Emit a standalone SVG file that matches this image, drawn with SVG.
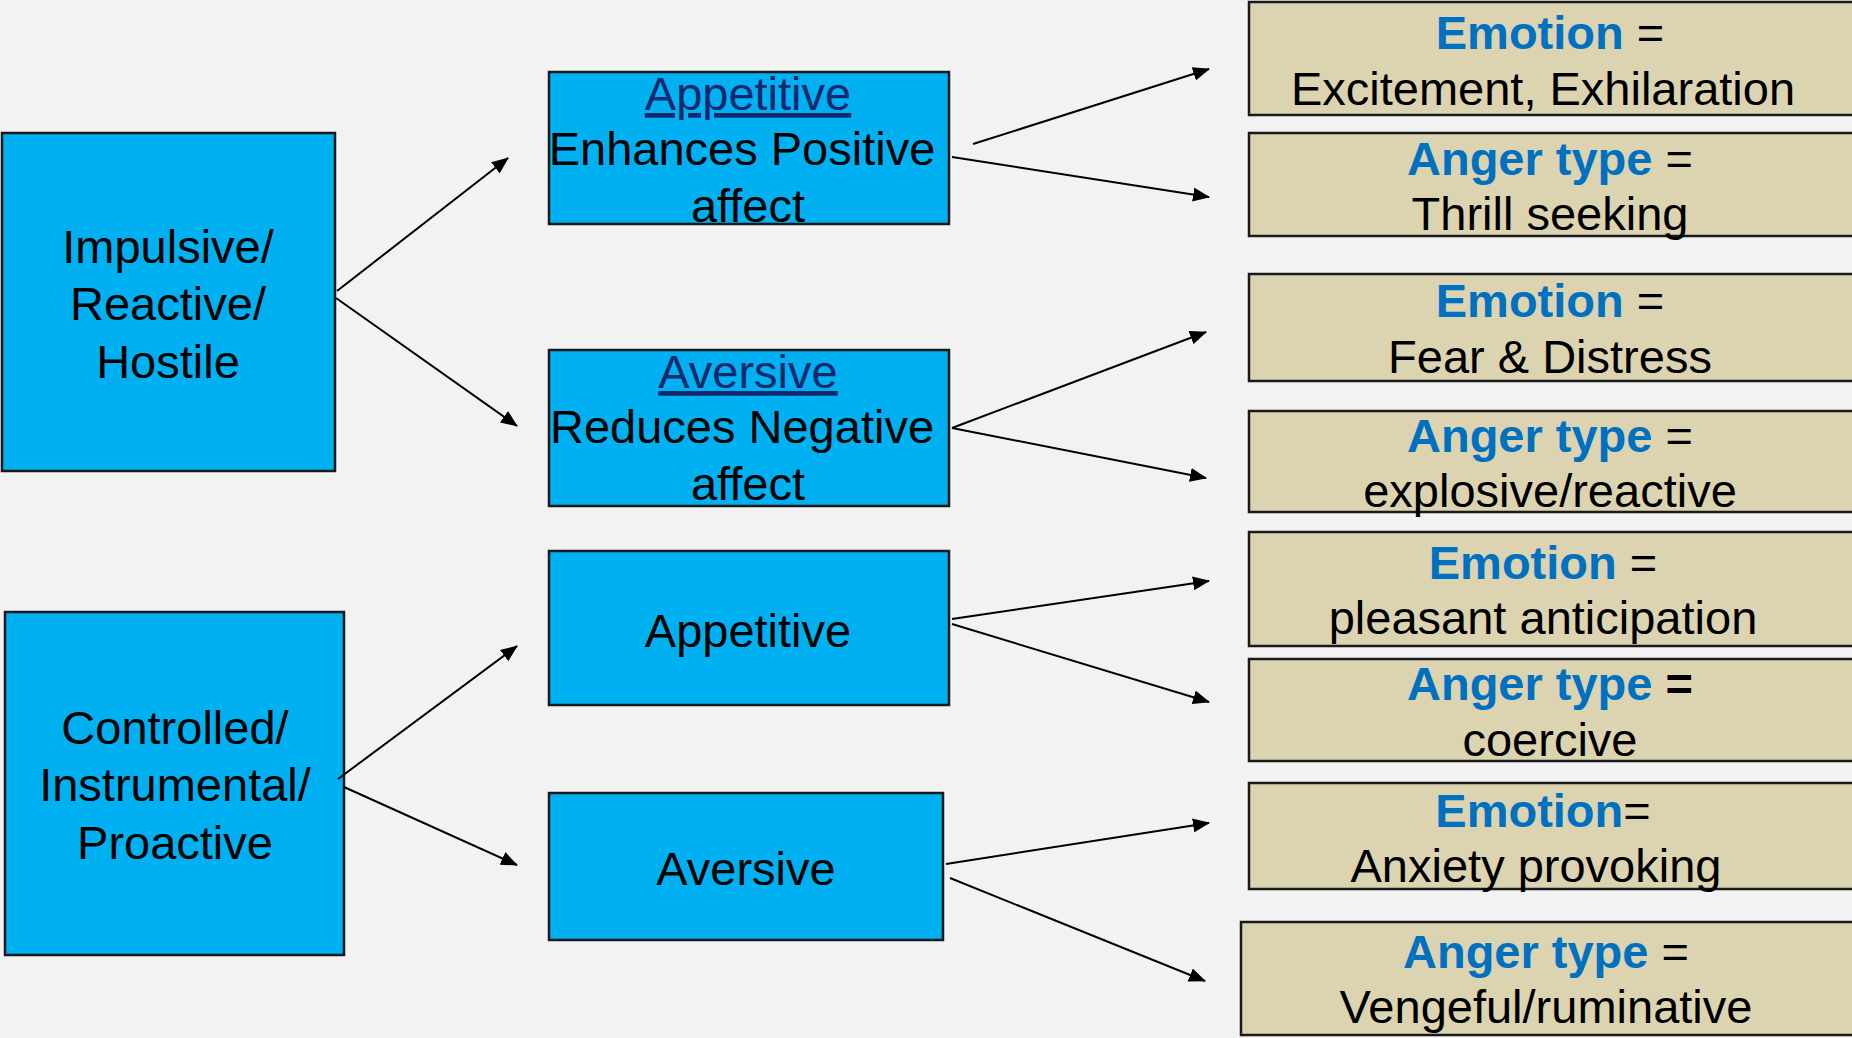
<svg xmlns="http://www.w3.org/2000/svg" width="1852" height="1038" viewBox="0 0 1852 1038">
<style>
text{font-family:"Liberation Sans",Arial,sans-serif;font-size:47px;text-anchor:middle;fill:#000}
.blue{fill:#00B0F0;stroke:#1a1a1a;stroke-width:2.5}
.tan{fill:#DCD3B1;stroke:#1a1a1a;stroke-width:2.5}
.hd{fill:#0070C0;font-weight:bold}
.lnk{fill:#14286E;text-decoration:underline}
.b{font-weight:bold}
.con line{stroke:#000;stroke-width:2;marker-end:url(#ah)}
</style>
<defs>
<marker id="ah" markerUnits="userSpaceOnUse" markerWidth="18" markerHeight="14" refX="16" refY="7" orient="auto">
<path d="M0,0 L17,7 L0,14 z" fill="#000"/>
</marker>
</defs>
<rect width="1852" height="1038" fill="#F2F2F2"/>

<g id="impulsive">
<rect class="blue" x="2" y="133" width="333" height="338"/>
<text x="168" y="263">Impulsive/</text>
<text x="168" y="320">Reactive/</text>
<text x="168" y="378">Hostile</text>
</g>

<g id="controlled">
<rect class="blue" x="5" y="612" width="339" height="343"/>
<text x="175" y="744">Controlled/</text>
<text x="175" y="801">Instrumental/</text>
<text x="175" y="859">Proactive</text>
</g>

<g id="appetitive1">
<rect class="blue" x="549" y="72" width="400" height="152"/>
<text class="lnk" x="748" y="110">Appetitive</text>
<text x="742" y="165">Enhances Positive</text>
<text x="748" y="222">affect</text>
</g>

<g id="aversive1">
<rect class="blue" x="549" y="350" width="400" height="156"/>
<text class="lnk" x="748" y="388">Aversive</text>
<text x="742" y="443">Reduces Negative</text>
<text x="748" y="500">affect</text>
</g>

<g id="appetitive2">
<rect class="blue" x="549" y="551" width="400" height="154"/>
<text x="748" y="647">Appetitive</text>
</g>

<g id="aversive2">
<rect class="blue" x="549" y="793" width="394" height="147"/>
<text x="746" y="885">Aversive</text>
</g>

<g id="emotion1">
<rect class="tan" x="1249" y="2" width="610" height="113"/>
<text x="1550" y="49"><tspan class="hd">Emotion</tspan> =</text>
<text x="1543" y="105">Excitement, Exhilaration</text>
</g>

<g id="anger1">
<rect class="tan" x="1249" y="133" width="610" height="103"/>
<text x="1550" y="175"><tspan class="hd">Anger type</tspan> =</text>
<text x="1550" y="230">Thrill seeking</text>
</g>

<g id="emotion2">
<rect class="tan" x="1249" y="274" width="610" height="107"/>
<text x="1550" y="317"><tspan class="hd">Emotion</tspan> =</text>
<text x="1550" y="373">Fear &amp; Distress</text>
</g>

<g id="anger2">
<rect class="tan" x="1249" y="411" width="610" height="101"/>
<text x="1550" y="452"><tspan class="hd">Anger type</tspan> =</text>
<text x="1550" y="507">explosive/reactive</text>
</g>

<g id="emotion3">
<rect class="tan" x="1249" y="532" width="610" height="114"/>
<text x="1543" y="579"><tspan class="hd">Emotion</tspan> =</text>
<text x="1543" y="634">pleasant anticipation</text>
</g>

<g id="anger3">
<rect class="tan" x="1249" y="659" width="610" height="102"/>
<text x="1550" y="700"><tspan class="hd">Anger type</tspan> <tspan class="b">=</tspan></text>
<text x="1550" y="756">coercive</text>
</g>

<g id="emotion4">
<rect class="tan" x="1249" y="783" width="610" height="106"/>
<text x="1543" y="827"><tspan class="hd">Emotion</tspan>=</text>
<text x="1536" y="882">Anxiety provoking</text>
</g>

<g id="anger4">
<rect class="tan" x="1241" y="922" width="618" height="113"/>
<text x="1546" y="968"><tspan class="hd">Anger type</tspan> =</text>
<text x="1546" y="1023">Vengeful/ruminative</text>
</g>

<g id="connectors" class="con">
<line x1="337" y1="291" x2="508" y2="158"/>
<line x1="336" y1="298" x2="517" y2="426"/>
<line x1="338" y1="779" x2="517" y2="646"/>
<line x1="344" y1="787" x2="517" y2="865"/>
<line x1="973" y1="144" x2="1209" y2="69"/>
<line x1="952" y1="157" x2="1209" y2="197"/>
<line x1="952" y1="428" x2="1206" y2="332"/>
<line x1="952" y1="428" x2="1206" y2="478"/>
<line x1="952" y1="619" x2="1209" y2="581"/>
<line x1="952" y1="624" x2="1209" y2="702"/>
<line x1="946" y1="864" x2="1209" y2="823"/>
<line x1="950" y1="878" x2="1205" y2="981"/>
</g>
</svg>
